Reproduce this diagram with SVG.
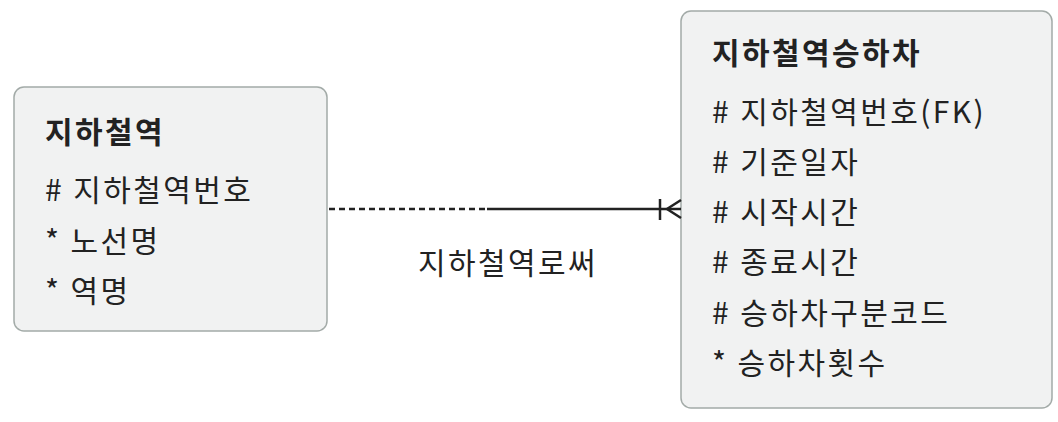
<svg xmlns="http://www.w3.org/2000/svg" width="1058" height="422" viewBox="0 0 1058 422">
<style>
.box{fill:#f1f2f2;stroke:#a3aba8;stroke-width:1.5}
.t{font-family:"Noto Sans CJK KR","Noto Sans",sans-serif;font-size:30px;letter-spacing:2.4px;fill:#222}
.b{font-weight:bold}
.ln{stroke:#222;stroke-width:2.5;fill:none}
</style>
<rect width="1058" height="422" fill="#ffffff"/>
<g id="station">
<rect class="box" x="14" y="87" width="313" height="244" rx="10"/>
<text class="t b" x="45" y="143">지하철역</text>
<text class="t" x="45" y="201"># 지하철역번호</text>
<text class="t" x="45" y="252">* 노선명</text>
<text class="t" x="45" y="302">* 역명</text>
</g>
<g id="boarding">
<rect class="box" x="681" y="11" width="371" height="397" rx="10"/>
<text class="t b" x="712" y="64">지하철역승하차</text>
<text class="t" x="712" y="123"># 지하철역번호(FK)</text>
<text class="t" x="712" y="173"># 기준일자</text>
<text class="t" x="712" y="223"># 시작시간</text>
<text class="t" x="712" y="273"># 종료시간</text>
<text class="t" x="712" y="324"># 승하차구분코드</text>
<text class="t" x="712" y="374">* 승하차횟수</text>
</g>
<g id="connectors">
<line class="ln" x1="329" y1="209" x2="487" y2="209" stroke-dasharray="6,4"/>
<line class="ln" x1="487" y1="209" x2="681" y2="209"/>
<line class="ln" x1="660" y1="199" x2="660" y2="220"/>
<path class="ln" d="M681,200 L667,209 L681,218" stroke-width="2"/>
<text class="t" x="508" y="274" text-anchor="middle">지하철역로써</text>
</g>
</svg>
